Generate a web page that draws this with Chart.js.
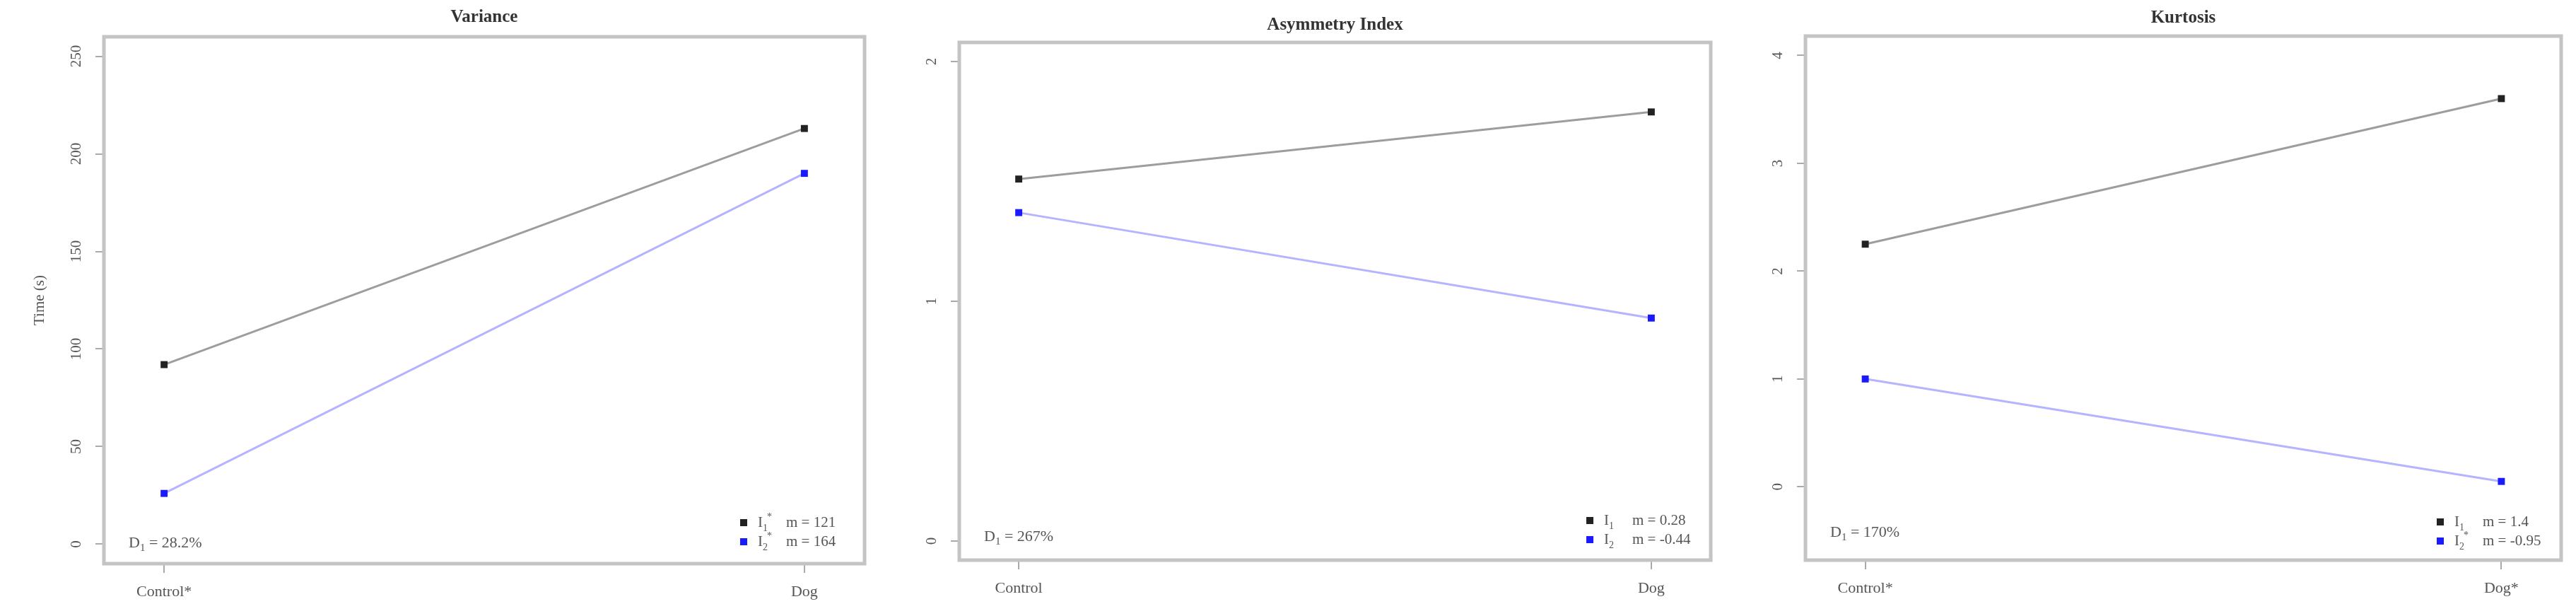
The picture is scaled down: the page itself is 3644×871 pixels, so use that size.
<!DOCTYPE html>
<html><head><meta charset="utf-8">
<script src="https://cdn.jsdelivr.net/npm/chart.js@4.4.1/dist/chart.umd.min.js"></script>
<style>
html,body{margin:0;padding:0;background:#fff;}
body{width:3644px;height:871px;position:relative;overflow:hidden;}
canvas{position:absolute;top:0;}
</style></head><body>
<canvas id="c1"></canvas><canvas id="c2"></canvas><canvas id="c3"></canvas>
<script>
// ---------- data ----------
const groupPos = [1, 2];                       // Control, Dog
const xLabelsVariance = ['Control*', 'Dog'];
const xLabelsAsym = ['Control', 'Dog'];
const xLabelsKurt = ['Control*', 'Dog*'];
const varianceI1 = [92, 213];
const varianceI2 = [26, 190];
const asymI1 = [1.51, 1.79];
const asymI2 = [1.37, 0.93];
const kurtI1 = [2.25, 3.6];
const kurtI2 = [1.0, 0.05];
const varianceTicks = [0, 50, 100, 150, 200, 250];
const asymTicks = [0, 1, 2];
const kurtTicks = [0, 1, 2, 3, 4];
const titles = ['Variance', 'Asymmetry Index', 'Kurtosis'];
const dValues = ['28.2%', '267%', '170%'];
const legendSub = [['1', '2'], ['1', '2'], ['1', '2']];
const legendSup = [['*', '*'], ['', ''], ['', '*']];
const slopeVariance = ['121', '164'];
const slopeAsym = ['0.28', '-0.44'];
const slopeKurt = ['1.4', '-0.95'];

// ---------- layout / style ----------
const H = 871;
const SERIF = '"Liberation Serif", "Times New Roman", serif';
const TXT = '#555';
const panels = [
  {id:'c1', left:0, width:1240, box:{l:147,t:52,r:1223,b:797}, y:[-10,260], ticks:varianceTicks,
   xl:xLabelsVariance, s1:varianceI1, s2:varianceI2, slopes:slopeVariance, ytitle:'Time (s)',
   titleY:25, dY:768, legY:739},
  {id:'c2', left:1240, width:1200, box:{l:1357,t:60,r:2420,b:792}, y:[-0.08,2.08], ticks:asymTicks,
   xl:xLabelsAsym, s1:asymI1, s2:asymI2, slopes:slopeAsym, ytitle:'',
   titleY:36, dY:759, legY:736},
  {id:'c3', left:2440, width:1204, box:{l:2554,t:51,r:3623,b:792}, y:[-0.68,4.18], ticks:kurtTicks,
   xl:xLabelsKurt, s1:kurtI1, s2:kurtI2, slopes:slopeKurt, ytitle:'',
   titleY:26, dY:753, legY:738}
];

const measureCtx = document.createElement('canvas').getContext('2d');
function tw(text, font){ measureCtx.font = font; return measureCtx.measureText(text).width; }

panels.forEach((p, pi) => {
  const cv = document.getElementById(p.id);
  cv.style.left = p.left + 'px';
  cv.style.width = p.width + 'px';
  cv.style.height = H + 'px';
  cv.width = p.width; cv.height = H;

  const tickFont = '21px ' + SERIF;
  const widest = Math.max(...p.ticks.map(t => tw(String(t), tickFont)));
  const yPad = 39 - 12 - widest / 2;

  const decor = {
    id: 'decor' + pi,
    afterDraw(chart) {
      const ctx = chart.ctx, a = chart.chartArea;
      ctx.save();
      // plot box
      ctx.strokeStyle = '#c4c4c4'; ctx.lineWidth = 5;
      ctx.strokeRect(a.left, a.top, a.right - a.left, a.bottom - a.top);
      // title
      ctx.fillStyle = '#333';
      ctx.font = 'bold 25px ' + SERIF;
      ctx.textAlign = 'center'; ctx.textBaseline = 'middle';
      ctx.fillText(titles[pi], (a.left + a.right) / 2, p.titleY);
      // D label
      ctx.fillStyle = TXT; ctx.textAlign = 'left'; ctx.textBaseline = 'middle';
      let x = a.left + 35, y = p.dY;
      ctx.font = '22px ' + SERIF; ctx.fillText('D', x, y); x += tw('D', ctx.font);
      ctx.font = '15px ' + SERIF; ctx.fillText('1', x, y + 7); x += tw('1', ctx.font);
      ctx.font = '22px ' + SERIF; ctx.fillText(' = ' + dValues[pi], x, y);
      // legend
      const colors = ['#222', '#1a1aff'];
      const lx = a.right - 171;
      [0, 1].forEach(k => {
        const ly = p.legY + k * 27;
        ctx.fillStyle = colors[k];
        ctx.fillRect(lx - 5, ly - 5, 10, 10);
        ctx.fillStyle = TXT;
        let tx = lx + 20;
        ctx.font = '21px ' + SERIF; ctx.fillText('I', tx, ly); tx += tw('I', ctx.font);
        ctx.font = '14px ' + SERIF; ctx.fillText(legendSub[pi][k], tx, ly + 8);
        if (legendSup[pi][k]) ctx.fillText(legendSup[pi][k], tx + 6, ly - 8);
        tx = lx + 60;
        ctx.font = '21px ' + SERIF; ctx.fillText('m = ' + p.slopes[k], tx, ly);
      });
      ctx.restore();
    }
  };

  new Chart(cv, {
    type: 'line',
    data: {
      datasets: [
        {data: groupPos.map((g, i) => ({x: g, y: p.s1[i]})), borderColor: '#9d9d9d', borderWidth: 3,
         pointStyle: 'rect', pointRadius: 7, pointBackgroundColor: '#222', pointBorderWidth: 0},
        {data: groupPos.map((g, i) => ({x: g, y: p.s2[i]})), borderColor: '#b4b4ff', borderWidth: 3,
         pointStyle: 'rect', pointRadius: 7, pointBackgroundColor: '#1a1aff', pointBorderWidth: 0}
      ]
    },
    options: {
      responsive: false, animation: false, devicePixelRatio: 1,
      layout: {padding: {left: 0, top: p.box.t, right: p.left + p.width - p.box.r, bottom: 0}},
      plugins: {legend: {display: false}, tooltip: {enabled: false}, title: {display: false}},
      scales: {
        x: {
          type: 'linear', min: 0.906, max: 2.094,
          afterBuildTicks: s => { s.ticks = groupPos.map(v => ({value: v})); },
          afterFit: s => { s.height = H - p.box.b; },
          grid: {drawOnChartArea: false, drawTicks: true, tickLength: 13, color: '#aaa', lineWidth: 2},
          border: {display: false},
          ticks: {callback: v => p.xl[groupPos.indexOf(v)], color: TXT, padding: 14,
                  font: {family: SERIF, size: 22}, maxRotation: 0, minRotation: 0}
        },
        y: {
          type: 'linear', min: p.y[0], max: p.y[1],
          afterBuildTicks: s => { s.ticks = p.ticks.map(v => ({value: v})); },
          afterFit: s => { s.width = p.box.l - p.left; },
          grid: {drawOnChartArea: false, drawTicks: true, tickLength: 12, color: '#aaa', lineWidth: 2},
          border: {display: false},
          ticks: {color: TXT, padding: yPad, crossAlign: 'center', minRotation: 90, maxRotation: 90,
                  font: {family: SERIF, size: 21}},
          title: {display: !!p.ytitle, text: p.ytitle, color: TXT, font: {family: SERIF, size: 21},
                  padding: {top: 44, bottom: 0}}
        }
      }
    },
    plugins: [decor]
  });
});
</script>
</body></html>
